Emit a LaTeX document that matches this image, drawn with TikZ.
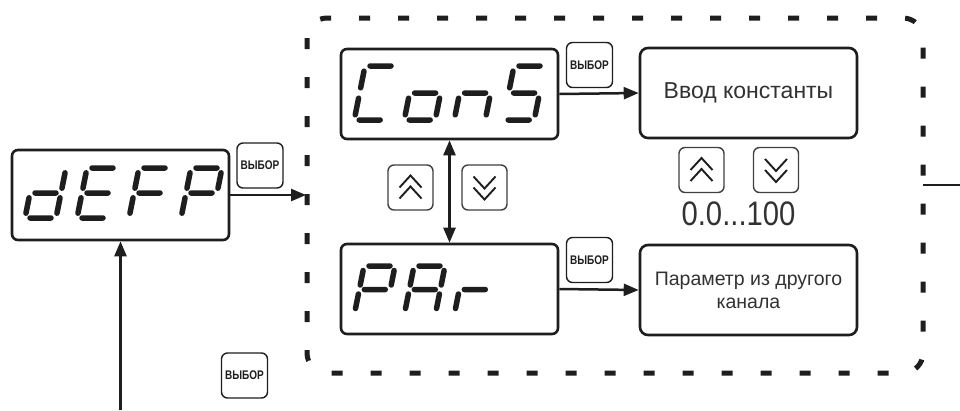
\documentclass[tikz,border=0pt]{standalone}
\usepackage{fontspec}
\usepackage{graphicx}
\setmainfont{Liberation Sans}
\usetikzlibrary{arrows.meta}
\definecolor{ink}{RGB}{30,30,30}
\definecolor{txtc}{RGB}{50,50,50}
\newcommand\vyb{\scalebox{0.8}[1]{ВЫБОР}}
\tikzset{
  disp/.style={draw=ink, line width=2.6pt, rounded corners=6pt, minimum width=217pt, minimum height=90pt, inner sep=0pt, fill=white},
  vybor/.style={draw=ink, line width=1.4pt, rounded corners=6pt, minimum width=46pt, minimum height=45pt, inner sep=0pt, text=ink, font=\fontsize{12.5}{13}\selectfont\bfseries},
  txtbox/.style={draw=ink, line width=2.6pt, rounded corners=8pt, minimum width=217pt, minimum height=90pt, inner sep=0pt, align=center, text=txtc},
  arrowkey/.style={draw=ink!85, line width=1.4pt, rounded corners=6pt, minimum width=45pt, minimum height=45pt, inner sep=0pt},
  conn/.style={draw=ink, line width=2.5pt, -{Triangle[length=15pt,width=12pt]}},
  seg/.style={draw=ink, line width=5.5pt, line cap=round},
  chevl/.style={draw=ink, line width=1.9pt, line join=miter},
  dashbox/.style={draw=ink, line width=5pt, dash pattern=on 11pt off 28pt, rounded corners=20pt},
  upchev/.pic={\draw[chevl] (-11,0)--(0,-12)--(11,0); \draw[chevl] (-11,11)--(0,-1)--(11,11);},
  dnchev/.pic={\draw[chevl] (-11,0)--(0,12)--(11,0); \draw[chevl] (-11,-11)--(0,1)--(11,-11);},
}
% seven-segment character: x, top y, height, segment paths
\newcommand\ssdig[4]{\begin{scope}[shift={(#1,#2)},xslant=0.2,yscale=#3/52]\draw[seg] #4;\end{scope}}
\newcommand\segA{(5,0)--(26,0)}
\newcommand\segB{(31,5)--(31,21)}
\newcommand\segC{(31,31)--(31,47)}
\newcommand\segD{(5,52)--(26,52)}
\newcommand\segE{(0,31)--(0,47)}
\newcommand\segF{(0,5)--(0,21)}
\newcommand\segG{(5,26)--(26,26)}
\begin{document}
\begin{tikzpicture}[x=1pt,y=-1pt]
\fill[white] (0,0) rectangle (960,410);
\useasboundingbox (0,0) rectangle (960,410);

% dashed group frame
\draw[dashbox] (307,18) rectangle (923,373);
\coordinate (boxl) at (306,195);
\coordinate (boxr) at (923,185);
\coordinate (exitr) at (960,185);
\coordinate (bottomstart) at (120.5,410);

% displays
\node[disp] (defp) at (120.5,195) {};
\node[disp] (cons) at (449.5,94) {};
\node[disp] (par) at (449.5,289) {};

% dEFP
\ssdig{35}{168}{50}{\segB \segC \segD \segE \segG}
\ssdig{87}{168}{50}{\segA \segD \segE \segF \segG}
\ssdig{139}{168}{50}{\segA \segE \segF \segG}
\ssdig{191}{168}{50}{\segA \segB \segE \segF \segG}
% ConS
\ssdig{365}{66}{54}{\segA \segD \segE \segF}
\ssdig{415}{66}{54}{\segC \segD \segE \segG}
\ssdig{465}{66}{54}{\segC \segE \segG}
\ssdig{514}{66}{54}{\segA \segC \segD \segF \segG}
% PAr
\ssdig{364}{266}{47}{\segA \segB \segE \segF \segG}
\ssdig{414}{266}{47}{\segA \segB \segC \segE \segF \segG}
\ssdig{464}{266}{47}{\segE \segG}

% select buttons
\node[vybor] (v1) at (260,165.5) {\vyb};
\node[vybor] (v2) at (589.5,65) {\vyb};
\node[vybor] (v3) at (589.5,260) {\vyb};
\node[vybor] (v4) at (244.5,375.5) {\vyb};

% text boxes
\node[txtbox, font=\fontsize{23}{24}\selectfont] (vvod) at (748.5,93) {Ввод константы};
\node[txtbox, font=\fontsize{19.5}{23}\selectfont] (param) at (748.5,290) {Параметр из другого\\канала};

% arrow keys
\node[arrowkey] (up1) at (410.5,187.5) {};
\node[arrowkey] (dn1) at (484.5,187.5) {};
\node[arrowkey] (up2) at (701.5,170) {};
\node[arrowkey] (dn2) at (776,170) {};
\pic at (up1) {upchev};
\pic at (dn1) {dnchev};
\pic at (up2) {upchev};
\pic at (dn2) {dnchev};

\node[text=txtc, inner sep=0pt, anchor=base] (range) at (738.5,225) {\scalebox{0.86}[1]{\fontsize{34}{36}\selectfont 0.0...100}};

% connectors
\draw[conn] (defp.east) -- (boxl);
\draw[conn] (cons.east) -- (vvod.west);
\draw[conn] (par.east) -- (param.west);
\draw[conn, {Triangle[length=15pt,width=12pt]}-{Triangle[length=15pt,width=12pt]}] (cons.south) -- (par.north);
\draw[conn] (bottomstart) -- (defp.south);
\draw[draw=ink, line width=1.6pt] (boxr) -- (exitr);
\end{tikzpicture}
\end{document}
